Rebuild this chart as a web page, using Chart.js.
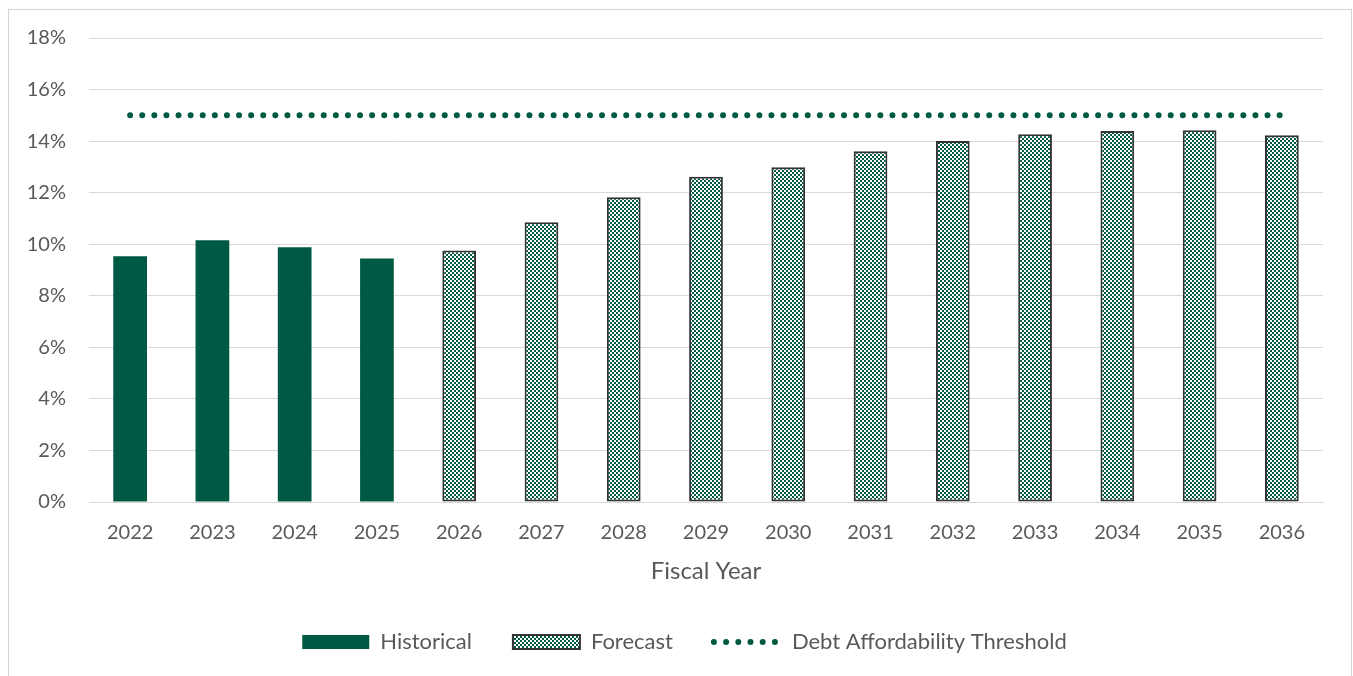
<!DOCTYPE html>
<html>
<head>
<meta charset="utf-8">
<script src="https://cdn.jsdelivr.net/npm/chart.js@4/dist/chart.umd.min.js"></script>
<style>
  body { margin: 0; background: #fff; }
  #frame {
    position: absolute; left: 8px; top: 9px; width: 1342px; height: 700px;
    border: 1px solid #d4d4d4;
  }
  #wrap { position: absolute; left: 0; top: 0; width: 1353px; height: 676px; }
</style>
</head>
<body>
<div id="frame"></div>
<div id="wrap"><canvas id="chart"></canvas></div>
<script>
const years = ['2022', '2023', '2024', '2025', '2026', '2027', '2028', '2029',
  '2030', '2031', '2032', '2033', '2034', '2035', '2036'];
const historical = [9.53, 10.15, 9.88, 9.45, null, null, null, null,
  null, null, null, null, null, null, null];
const forecast = [null, null, null, null, 9.76, 10.85, 11.82, 12.62,
  12.99, 13.61, 14.0, 14.27, 14.39, 14.42, 14.23];
const threshold = [15, 15, 15, 15, 15, 15, 15, 15, 15, 15, 15, 15, 15, 15, 15];
const yTicks = [0, 2, 4, 6, 8, 10, 12, 14, 16, 18];

const GREEN = '#005a43';
const TEXT = '#595959';
const FONT = 'Lato, "Open Sans", sans-serif';

// small checker fill for the forecast bars
function checker() {
  const c = document.createElement('canvas');
  c.width = 4; c.height = 4;
  const g = c.getContext('2d');
  g.fillStyle = '#fff';
  g.fillRect(0, 0, 4, 4);
  g.fillStyle = GREEN;
  g.fillRect(0, 0, 2, 2);
  g.fillRect(2, 2, 2, 2);
  return g.createPattern(c, 'repeat');
}

const ctx = document.getElementById('chart').getContext('2d');
const dots = checker();

new Chart(ctx, {
  data: {
    labels: years,
    datasets: [{
      type: 'bar',
      label: 'Historical',
      data: historical,
      backgroundColor: GREEN,
      borderWidth: 0,
      order: 1
    }, {
      type: 'bar',
      label: 'Forecast',
      data: forecast,
      backgroundColor: dots,
      borderColor: '#333',
      borderWidth: 2,
      borderSkipped: false,
      order: 1
    }, {
      type: 'line',
      label: 'Debt Affordability Threshold',
      data: threshold,
      borderColor: GREEN,
      backgroundColor: GREEN,
      borderWidth: 6,
      borderDash: [0, 12.1],
      borderCapStyle: 'round',
      pointRadius: 0,
      fill: false,
      order: 0
    }]
  },
  options: {
    responsive: true,
    maintainAspectRatio: false,
    animation: false,
    layout: { padding: { left: 16, right: 0, top: 38, bottom: 13 } },
    datasets: {
      bar: { grouped: false, categoryPercentage: 1, barPercentage: 0.41 }
    },
    scales: {
      x: {
        afterFit: axis => { axis.height = 88; },
        grid: { display: false, drawTicks: false },
        border: { color: '#d9d9d9', width: 1 },
        ticks: { color: TEXT, font: { family: FONT, size: 20 }, padding: 19 },
        title: {
          display: true, text: 'Fiscal Year', color: TEXT,
          font: { family: FONT, size: 24 }, padding: { top: 0, bottom: 4 }
        }
      },
      y: {
        min: 0, max: 18,
        afterBuildTicks: axis => { axis.ticks = yTicks.map(v => ({ value: v })); },
        afterFit: axis => { axis.width = 73; },
        grid: { color: '#d9d9d9', lineWidth: 1, drawTicks: false },
        border: { display: false },
        ticks: {
          color: TEXT, font: { family: FONT, size: 20 }, padding: 23,
          callback: v => v + '%'
        }
      },
      // empty right-hand margin so the legend centres on the frame
      yRight: {
        type: 'linear',
        position: 'right',
        afterFit: axis => { axis.width = 30; },
        grid: { display: false },
        border: { display: false },
        ticks: { display: false }
      }
    },
    plugins: {
      tooltip: { enabled: false },
      legend: {
        position: 'bottom',
        labels: {
          color: TEXT,
          font: { family: FONT, size: 22 },
          usePointStyle: true,
          pointStyleWidth: 67,
          boxHeight: 14,
          padding: 41,
          generateLabels: chart => chart.data.datasets.map((ds, i) => {
            const line = ds.type === 'line';
            return {
              text: ds.label,
              datasetIndex: i,
              pointStyle: line ? 'line' : 'rect',
              fillStyle: ds.backgroundColor,
              strokeStyle: line ? GREEN : (ds.borderWidth ? '#333' : GREEN),
              lineWidth: line ? 6 : (ds.borderWidth ? 2 : 0),
              lineDash: line ? [0, 12.2] : [],
              lineCap: line ? 'round' : 'butt',
              fontColor: TEXT
            };
          })
        }
      }
    }
  }
});
</script>
</body>
</html>
